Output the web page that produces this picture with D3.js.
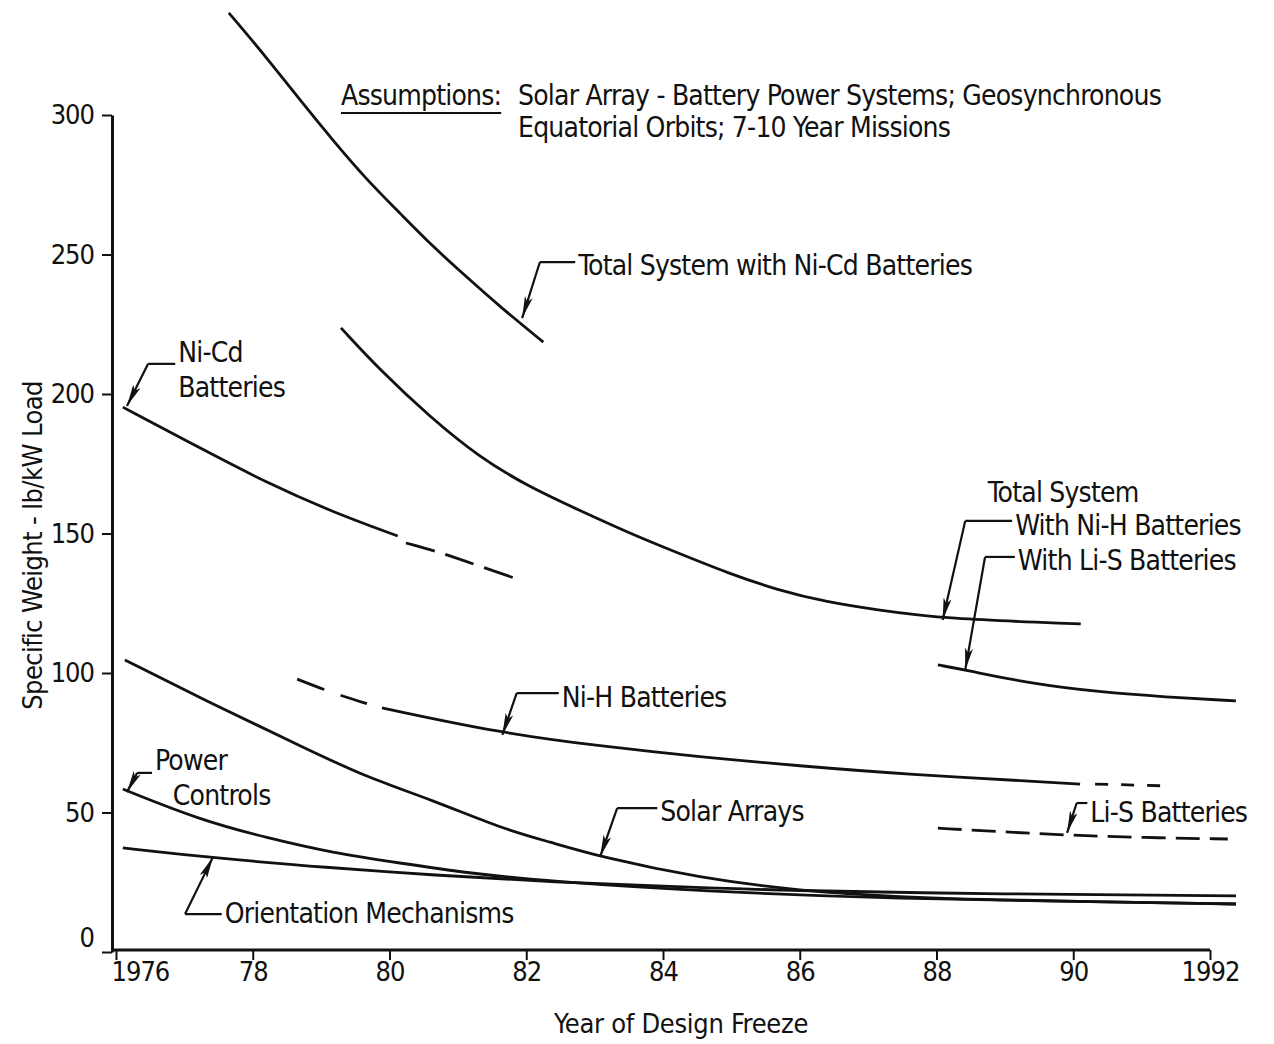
<!DOCTYPE html>
<html>
<head>
<meta charset="utf-8">
<script src="https://cdn.jsdelivr.net/npm/d3@7"></script>
<style>
  html, body { margin: 0; padding: 0; background: #fff; }
  svg text { font-family: "Liberation Sans Narrow", "DejaVu Sans Condensed", "Arial Narrow", sans-serif; fill: #111; }
</style>
</head>
<body>
<svg id="chart" width="1274" height="1044"></svg>
<script>
// ---- Axis ticks ----
const yTicks = [0, 50, 100, 150, 200, 250, 300];
const xTicks = [1976, 1978, 1980, 1982, 1984, 1986, 1988, 1990, 1992];
const xTickLabels = ["1976", "78", "80", "82", "84", "86", "88", "90", "1992"];

// ---- Series: year of design freeze -> specific weight (lb/kW load) ----
const totalNiCdYears  = [1977.65, 1978.21, 1978.69, 1979.17, 1979.67, 1980.15, 1980.64, 1981.13, 1981.62, 1982.25];
const totalNiCdValues = [336.6, 320.4, 305.4, 291.0, 276.7, 264.9, 252.7, 241.9, 231.2, 218.6];

const niCdYears  = [1976.10, 1977.23, 1978.21, 1979.17, 1980.12];
const niCdValues = [195.3, 180.6, 168.1, 157.7, 149.1];
const niCdProjYears  = [1980.24, 1980.78, 1981.35, 1981.95];
const niCdProjValues = [146.6, 143.0, 138.0, 133.0];

const totalNiHYears  = [1979.29, 1979.86, 1980.59, 1981.31, 1982.04, 1982.77, 1983.50, 1984.22, 1984.95, 1985.68, 1986.40, 1987.13, 1988.11, 1990.11];
const totalNiHValues = [223.7, 208.6, 191.8, 177.4, 166.7, 158.4, 150.2, 143.0, 135.8, 129.7, 125.4, 122.6, 119.4, 117.6];

const totalLiSYears  = [1988.02, 1988.42, 1989.40, 1990.38, 1991.34, 1992.38];
const totalLiSValues = [102.9, 101.1, 96.1, 93.2, 91.4, 90.0];

const niHEarlyYears  = [1978.65, 1979.15, 1979.67];
const niHEarlyValues = [97.8, 93.0, 89.0];
const niHYears  = [1979.89, 1981.62, 1983.08, 1984.54, 1986.00, 1987.47, 1990.10];
const niHValues = [87.5, 78.5, 73.8, 69.9, 66.7, 63.8, 60.2];
const niHLateYears  = [1990.32, 1991.41];
const niHLateValues = [60.2, 59.5];

const liSYears  = [1988.02, 1989.0, 1990.0, 1991.0, 1992.26];
const liSValues = [44.4, 43.0, 41.8, 41.0, 40.5];

const solarYears  = [1976.13, 1977.50, 1978.67, 1979.65, 1980.63, 1981.62, 1982.35, 1983.08, 1984.54, 1986.00, 1987.47, 1988.93, 1992.38];
const solarValues = [104.7, 87.8, 74.2, 62.7, 54.5, 44.4, 39.4, 34.1, 26.5, 21.9, 19.7, 18.6, 17.2];

const powerYears  = [1976.10, 1977.23, 1978.21, 1979.17, 1980.15, 1981.13, 1982.35, 1984.54, 1987.47, 1990.40, 1992.38];
const powerValues = [58.4, 47.3, 40.9, 35.5, 31.9, 28.3, 25.3, 21.8, 19.0, 18.0, 17.2];

const orientYears  = [1976.10, 1977.42, 1979.17, 1980.63, 1982.35, 1984.54, 1987.47, 1992.38];
const orientValues = [37.3, 33.7, 30.1, 27.6, 25.1, 22.9, 21.1, 20.1];

// Each drawn piece: which arrays, and its stroke pattern
const pieces = [
  { years: totalNiCdYears, values: totalNiCdValues, dash: null },
  { years: niCdYears, values: niCdValues, dash: null },
  { years: niCdProjYears, values: niCdProjValues, dash: "30,11" },
  { years: totalNiHYears, values: totalNiHValues, dash: null },
  { years: totalLiSYears, values: totalLiSValues, dash: null },
  { years: niHEarlyYears, values: niHEarlyValues, dash: "29,17" },
  { years: niHYears, values: niHValues, dash: null },
  { years: niHLateYears, values: niHLateValues, dash: "13,13" },
  { years: liSYears, values: liSValues, dash: "24,10" },
  { years: solarYears, values: solarValues, dash: null },
  { years: powerYears, values: powerValues, dash: null },
  { years: orientYears, values: orientValues, dash: null }
];

// Callouts: arrow tip on the curve, knee of the leader, label lines (all in data units)
const callouts = [
  { tip: [1981.94, 227.2], knee: [1982.20, 247.3], lines: [["Total System with Ni-Cd Batteries", 1982.76, 246.2]] },
  { tip: [1976.16, 195.7], knee: [1976.47, 210.8], lines: [["Ni-Cd", 1976.91, 215.1], ["Batteries", 1976.91, 202.5]] },
  { tip: [1988.09, 119.0], knee: [1988.42, 154.5], lines: [["With Ni-H Batteries", 1989.15, 153.0]] },
  { tip: [1988.42, 101.1], knee: [1988.71, 141.6], lines: [["With Li-S Batteries", 1989.19, 140.5]] },
  { tip: [1981.65, 77.8],  knee: [1981.86, 92.8],  lines: [["Ni-H Batteries", 1982.52, 91.4]] },
  { tip: [1976.16, 57.3],  knee: [1976.31, 64.2],  lines: [["Power", 1976.57, 68.8], ["Controls", 1976.83, 56.3]] },
  { tip: [1977.42, 34.1],  knee: [1977.01, 13.6],  lines: [["Orientation Mechanisms", 1977.59, 14.0]] },
  { tip: [1983.08, 34.1],  knee: [1983.33, 51.6],  lines: [["Solar Arrays", 1983.96, 50.5]] },
  { tip: [1989.91, 42.7],  knee: [1990.05, 53.4],  lines: [["Li-S Batteries", 1990.25, 50.2]] }
];
const freeLabels = [["Total System", 1988.75, 164.9]];

const svg = d3.select("#chart");
const margin = { top: 115, right: 64, bottom: 92, left: 116 };
const W = +svg.attr("width"), H = +svg.attr("height");

const x = d3.scaleLinear().domain([1976, 1992]).range([margin.left, W - margin.right]);
const y = d3.scaleLinear().domain([0, 300]).range([H - margin.bottom, margin.top]);

const LABEL_SIZE = 28;
const LABEL_SPACING = "-0.8px";

// Arrowhead for leader lines
svg.append("defs").append("marker")
  .attr("id", "head").attr("viewBox", "0 0 22 8")
  .attr("refX", 22).attr("refY", 4)
  .attr("markerWidth", 22).attr("markerHeight", 8)
  .attr("markerUnits", "userSpaceOnUse").attr("orient", "auto")
  .append("path").attr("d", "M0,0 L22,4 L0,8 L5,4 Z").attr("fill", "#111");

// ---- Axes ----
const yAxisX = x(1976) - 4;
const yAxis = d3.axisLeft(y).tickValues(yTicks).tickSize(10).tickSizeOuter(0).tickPadding(8);
const gy = svg.append("g").attr("transform", `translate(${yAxisX},0)`).call(yAxis);
gy.select(".domain").attr("stroke", "#111").attr("stroke-width", 3);
gy.selectAll(".tick line").attr("stroke", "#111").attr("stroke-width", 2);
gy.selectAll(".tick text").attr("font-size", 27).attr("fill", "#111")
  .attr("letter-spacing", "-1px")
  .attr("dy", d => d === 0 ? "-0.2em" : "0.32em");

const xAxis = d3.axisBottom(x).tickValues(xTicks)
  .tickFormat((d, i) => xTickLabels[i]).tickSize(10).tickSizeOuter(0).tickPadding(2);
const gx = svg.append("g").attr("transform", `translate(0,${y(0) - 2})`).call(xAxis);
gx.select(".domain").attr("stroke", "#111").attr("stroke-width", 3)
  .attr("d", `M${yAxisX - 1},0H${x(1992)}`);
gx.selectAll(".tick line").attr("stroke", "#111").attr("stroke-width", 2);
gx.selectAll(".tick text").attr("font-size", 27).attr("fill", "#111")
  .attr("letter-spacing", "-1px")
  .attr("text-anchor", (d, i) => i === 0 ? "start" : "middle")
  .attr("dx", (d, i) => i === 0 ? -5 : 0);

svg.append("text")
  .attr("x", (x(1976) + x(1992)) / 2 + 18).attr("y", H - 11)
  .attr("text-anchor", "middle").attr("font-size", 27).attr("letter-spacing", "-0.3px")
  .text("Year of Design Freeze");

svg.append("text")
  .attr("transform", `translate(42,${(y(0) + y(300)) / 2 + 12}) rotate(-90)`)
  .attr("text-anchor", "middle").attr("font-size", 27).attr("letter-spacing", "-0.6px")
  .text("Specific Weight - lb/kW Load");

// ---- Curves ----
const line = d3.line()
  .x(d => x(d[0])).y(d => y(d[1]))
  .curve(d3.curveBasis);

svg.append("g").selectAll("path")
  .data(pieces)
  .join("path")
  .attr("d", p => line(p.years.map((yr, i) => [yr, p.values[i]])))
  .attr("fill", "none")
  .attr("stroke", "#111")
  .attr("stroke-width", 2.8)
  .attr("stroke-linecap", "butt")
  .attr("stroke-dasharray", p => p.dash);

// ---- Callouts ----
const cg = svg.append("g");
const addLabel = (t, lx, ly) =>
  cg.append("text").attr("x", x(lx)).attr("y", y(ly)).attr("dy", "0.36em")
    .attr("font-size", LABEL_SIZE).attr("letter-spacing", LABEL_SPACING).text(t);

callouts.forEach(c => {
  const kx = x(c.knee[0]), ky = y(c.knee[1]);
  const firstX = x(c.lines[0][1]);
  // horizontal run into the label
  cg.append("line")
    .attr("x1", kx).attr("y1", ky).attr("x2", firstX - 3).attr("y2", ky)
    .attr("stroke", "#111").attr("stroke-width", 2.2);
  // diagonal to the curve
  cg.append("line")
    .attr("x1", kx).attr("y1", ky).attr("x2", x(c.tip[0])).attr("y2", y(c.tip[1]))
    .attr("stroke", "#111").attr("stroke-width", 2.2)
    .attr("marker-end", "url(#head)");
  c.lines.forEach(([t, lx, ly]) => addLabel(t, lx, ly));
});
freeLabels.forEach(([t, lx, ly]) => addLabel(t, lx, ly));

// ---- Assumptions note ----
const note = svg.append("g");
const noteLead = note.append("text").attr("x", x(1979.29)).attr("y", y(307.2)).attr("dy", "0.36em")
  .attr("font-size", LABEL_SIZE).attr("letter-spacing", LABEL_SPACING).text("Assumptions:");
const bb = noteLead.node().getBBox();
note.append("line")
  .attr("x1", bb.x).attr("x2", bb.x + bb.width)
  .attr("y1", bb.y + bb.height + 1).attr("y2", bb.y + bb.height + 1)
  .attr("stroke", "#111").attr("stroke-width", 2);
note.append("text").attr("x", x(1981.88)).attr("y", y(307.2)).attr("dy", "0.36em")
  .attr("font-size", LABEL_SIZE).attr("letter-spacing", LABEL_SPACING)
  .text("Solar Array - Battery Power Systems; Geosynchronous");
note.append("text").attr("x", x(1981.88)).attr("y", y(295.7)).attr("dy", "0.36em")
  .attr("font-size", LABEL_SIZE).attr("letter-spacing", LABEL_SPACING)
  .text("Equatorial Orbits; 7-10 Year Missions");
</script>
</body>
</html>
